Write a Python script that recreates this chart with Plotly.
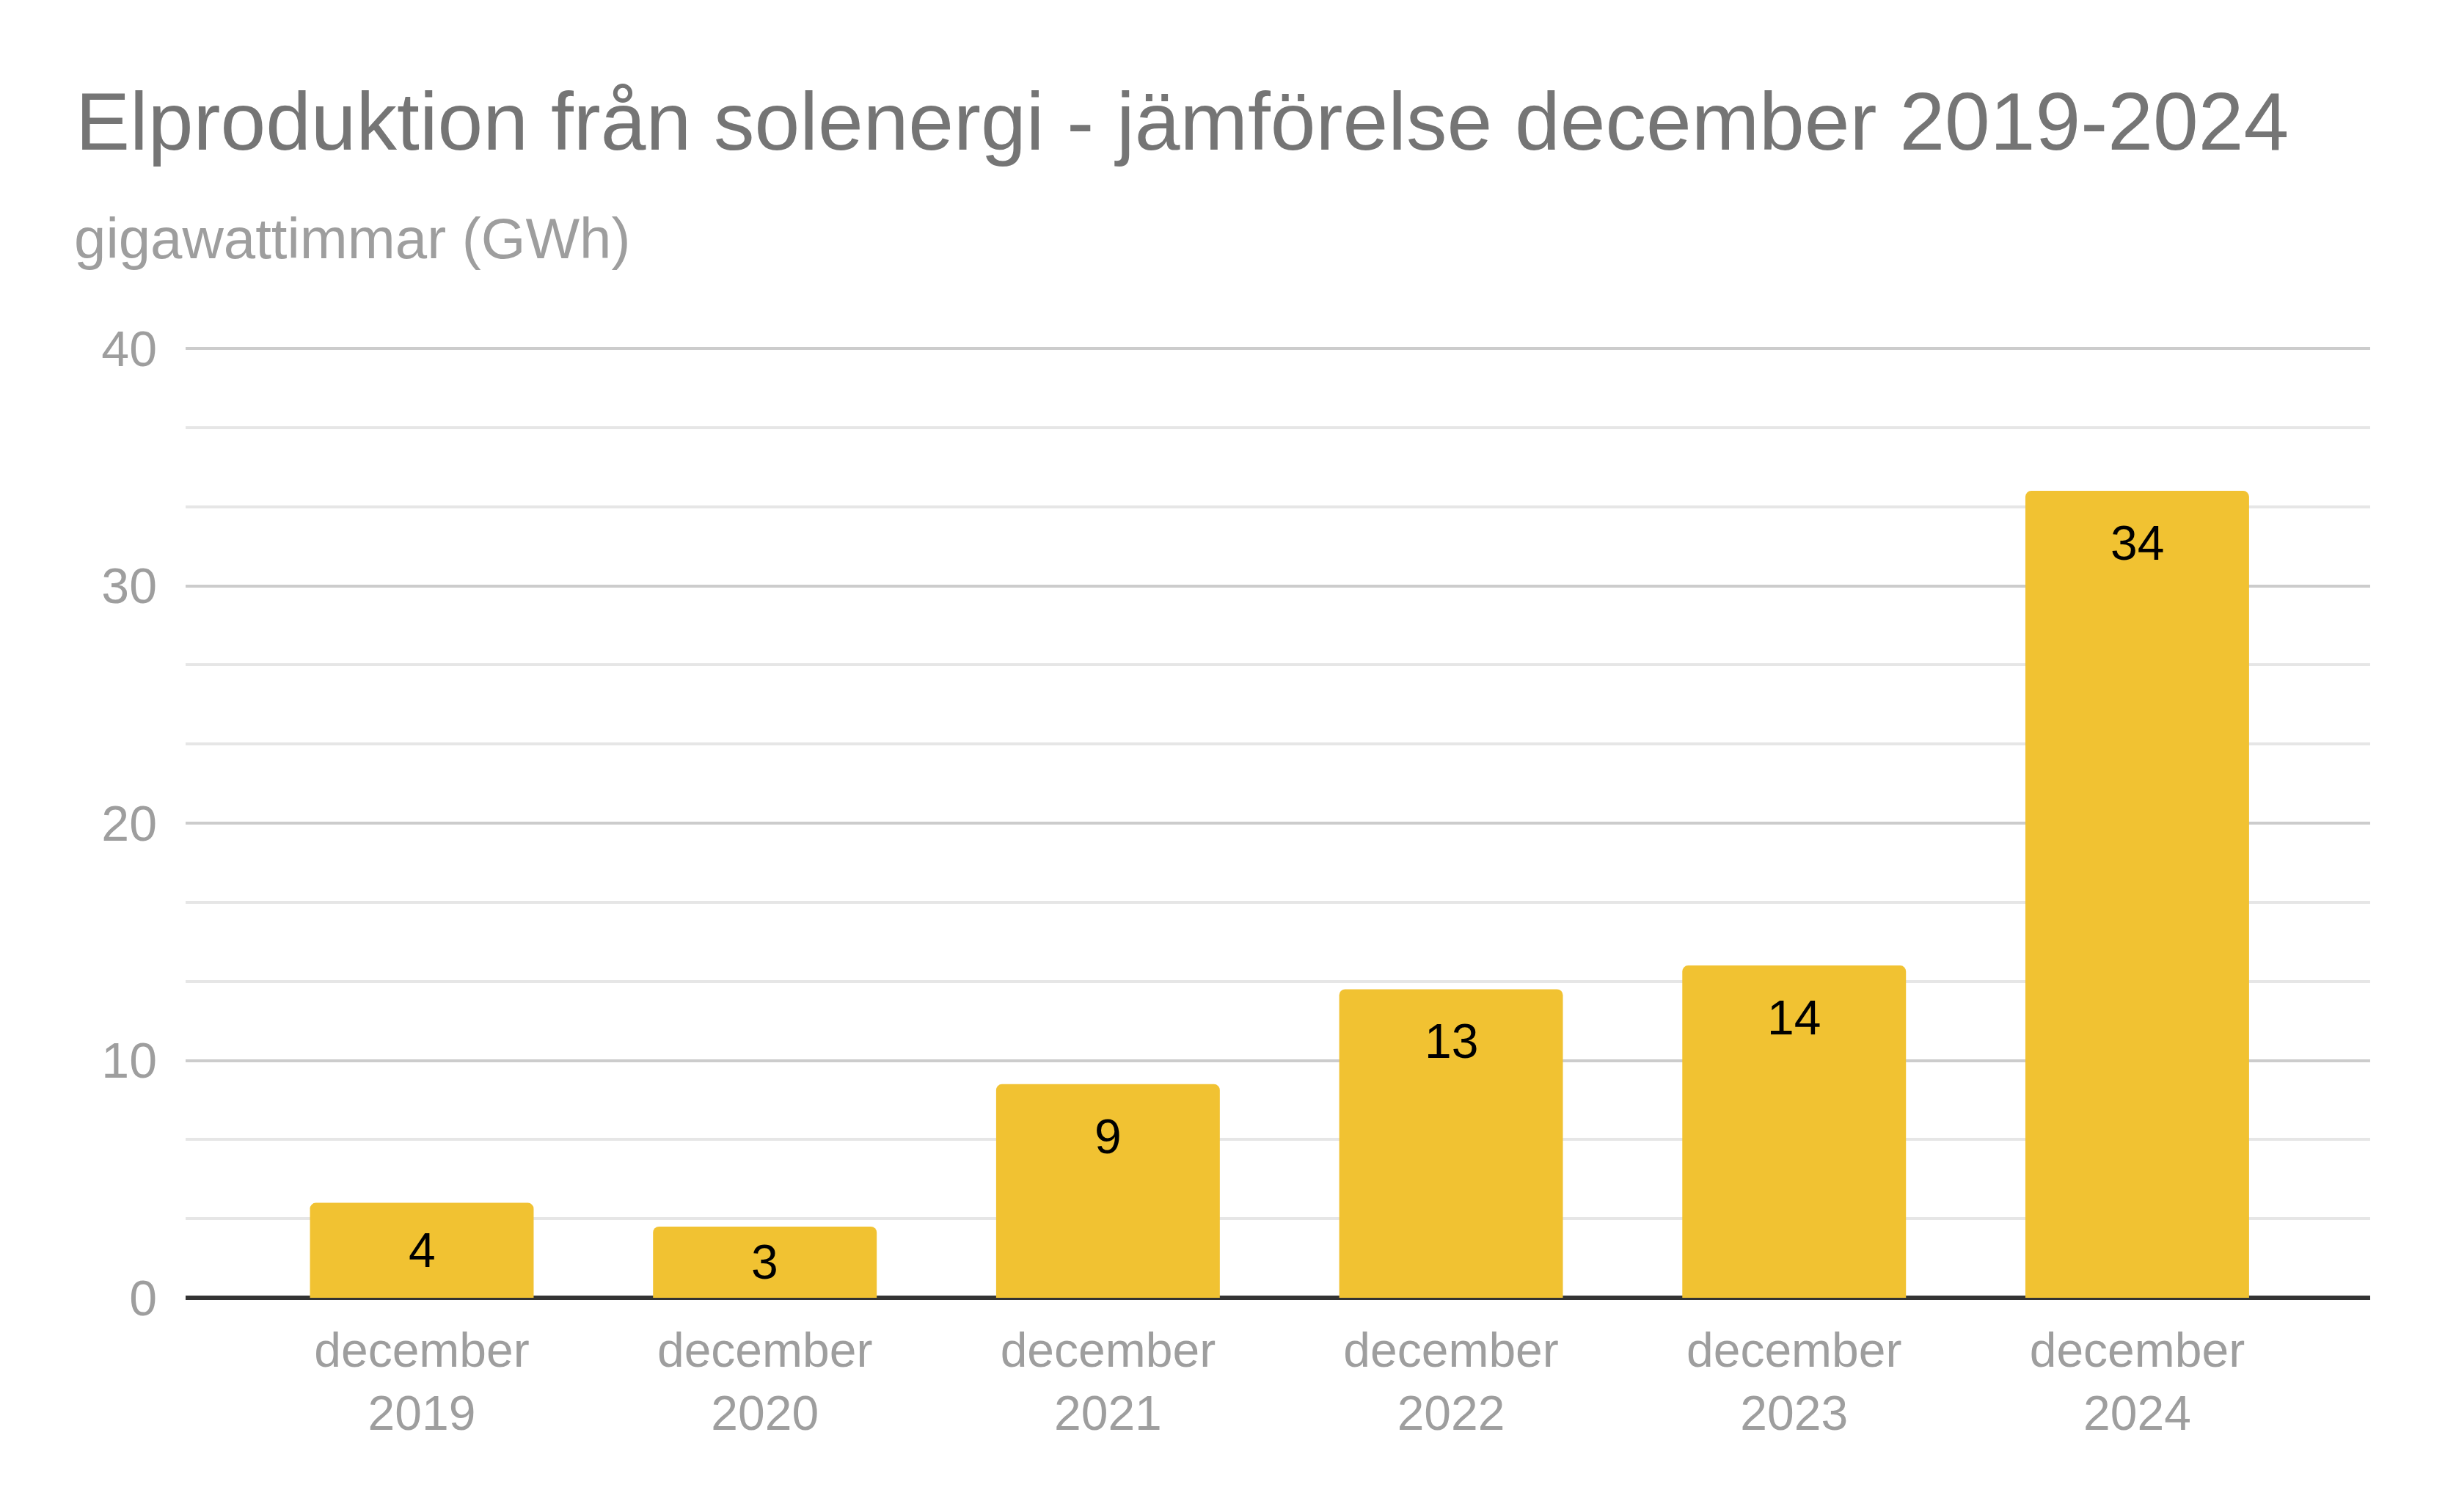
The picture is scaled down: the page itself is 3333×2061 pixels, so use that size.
import plotly.graph_objects as go

categories = ["december<br>2019", "december<br>2020", "december<br>2021",
              "december<br>2022", "december<br>2023", "december<br>2024"]
values = [4, 3, 9, 13, 14, 34]
y_ticks = [0, 10, 20, 30, 40]

title_text = "Elproduktion från solenergi - jämförelse december 2019-2024"
subtitle_text = "gigawattimmar (GWh)"

# page body has an 8px default margin; figure sized so the page fits the window
W, H = 3325, 2053
ML, MR, MT, MB = 245, 102, 460, 292
TOP_40 = 467                      # figure row of the 40 gridline
plot_h = H - MT - MB
plot_w = W - ML - MR
px_per_unit = (H - MB - TOP_40) / 40.0
y_top = 40 + (TOP_40 - MT) / px_per_unit

FONT = "Liberation Sans, Arial, sans-serif"
BAR_COLOR = "#F1C232"

fig = go.Figure()
fig.add_trace(go.Bar(
    x=list(range(len(categories))),
    y=values,
    marker=dict(color=BAR_COLOR, line=dict(width=0), cornerradius=8),
    hoverinfo="skip",
))

# value labels inside the bar tops
for i, v in enumerate(values):
    bar_px = v * px_per_unit
    shift = -min(71, bar_px / 2)
    fig.add_annotation(
        x=i, y=v, xref="x", yref="y", text=str(v), showarrow=False,
        yanchor="middle", yshift=shift,
        font=dict(family=FONT, size=66, color="#000000"),
    )

fig.add_annotation(
    xref="paper", yref="paper", x=(93 - ML) / plot_w, y=(H - MB - 158) / plot_h,
    xanchor="left", yanchor="middle", text=title_text, showarrow=False,
    font=dict(family=FONT, size=111, color="#757575"),
)
fig.add_annotation(
    xref="paper", yref="paper", x=(91 - ML) / plot_w, y=(H - MB - 317) / plot_h,
    xanchor="left", yanchor="middle", text=subtitle_text, showarrow=False,
    font=dict(family=FONT, size=78, color="#9e9e9e"),
)

fig.update_layout(
    width=W, height=H,
    margin=dict(l=ML, r=MR, t=MT, b=MB),
    paper_bgcolor="white", plot_bgcolor="white",
    showlegend=False,
    bargap=0.348,
    xaxis=dict(
        range=[-0.6885, 5.679],
        tickmode="array", tickvals=list(range(len(categories))), ticktext=categories,
        showgrid=False, zeroline=False, showline=False, ticks="",
        tickfont=dict(family=FONT, size=66, color="#9e9e9e"),
        ticklabelstandoff=27,
    ),
    yaxis=dict(
        range=[0, y_top],
        tickmode="array", tickvals=y_ticks,
        showgrid=True, gridcolor="#cccccc", gridwidth=4,
        zeroline=True, zerolinecolor="#333333", zerolinewidth=6,
        showline=False, ticks="",
        tickfont=dict(family=FONT, size=68, color="#9e9e9e"),
        ticklabelstandoff=38,
        minor=dict(dtick=10 / 3, tick0=0, showgrid=True, gridcolor="#e6e6e6", gridwidth=4),
    ),
)

fig.write_html("out.html")
